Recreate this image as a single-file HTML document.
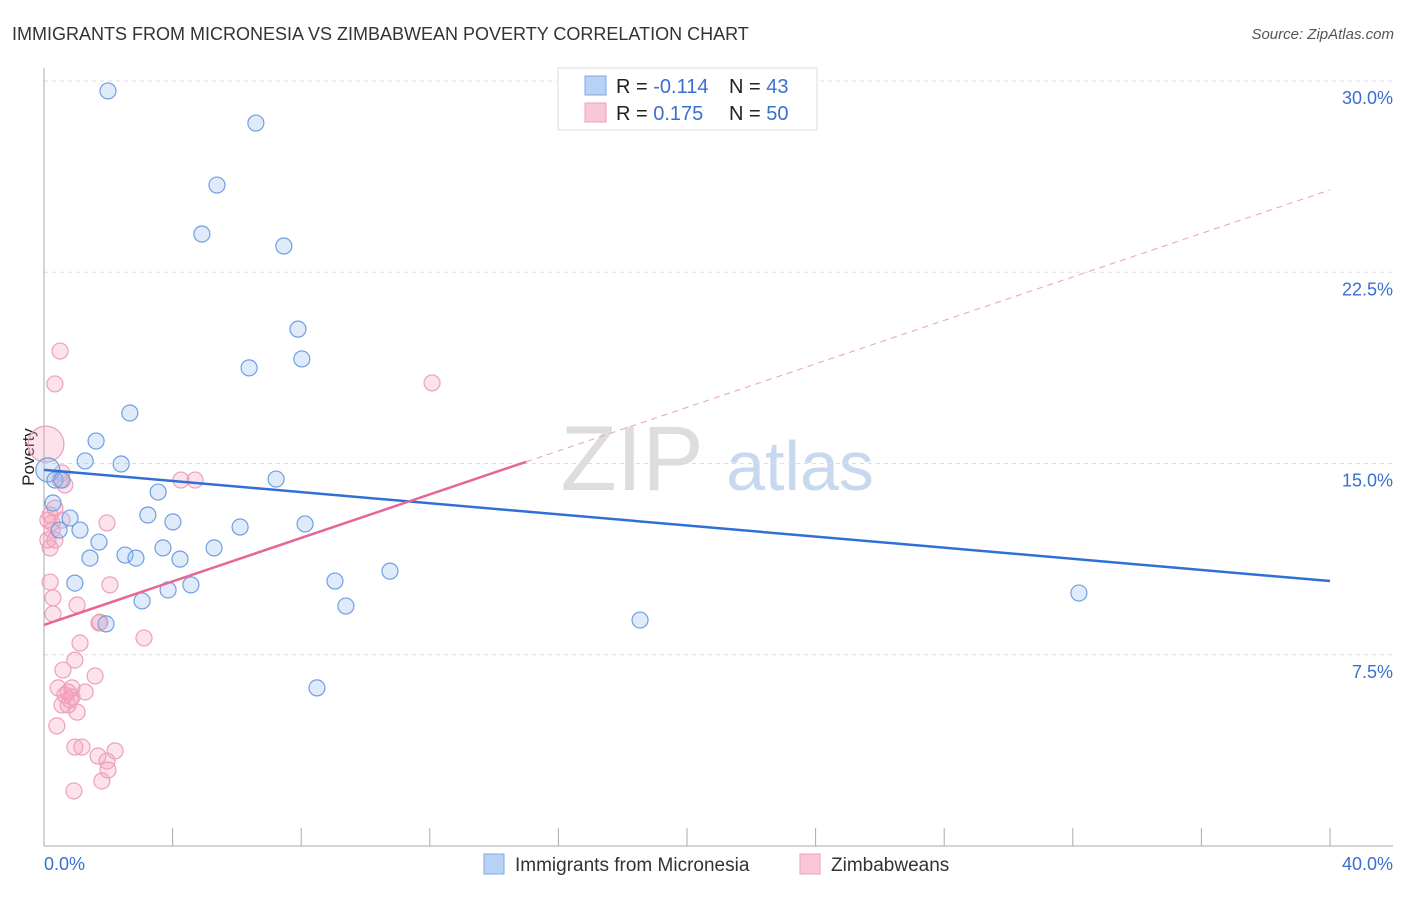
<!DOCTYPE html>
<html><head><meta charset="utf-8"><style>
body{margin:0;background:#fff;font-family:"Liberation Sans",sans-serif}
svg text{font-family:"Liberation Sans",sans-serif}
</style></head><body>
<svg id="c" width="1406" height="892">
<text x="12" y="40" font-size="18" fill="#333">IMMIGRANTS FROM MICRONESIA VS ZIMBABWEAN POVERTY CORRELATION CHART</text>
<text x="1394" y="39" font-size="15" fill="#555" font-style="italic" text-anchor="end">Source: ZipAtlas.com</text>
<text x="34" y="457" font-size="17" fill="#222" transform="rotate(-90 34 457)" text-anchor="middle">Poverty</text>
<g><text x="632" y="490" font-size="92" fill="#ddd" text-anchor="middle" font-family="Liberation Serif">ZIP</text><text x="800" y="490" font-size="70" fill="#c8d8ee" text-anchor="middle">atlas</text></g>
<g id="grid"></g><g id="pts"></g><g id="lines"></g>
<g>
<rect x="558" y="68" width="259" height="62" fill="#fff" stroke="#ddd"/>
<rect x="585" y="76" width="21" height="19" fill="#b8d2f5" stroke="#7fa8e0"/>
<rect x="585" y="103" width="21" height="19" fill="#f9c7d6" stroke="#eba0b8"/>
<text x="616" y="93" font-size="20" fill="#222">R = <tspan fill="#3a6fd0">-0.114</tspan></text>
<text x="729" y="93" font-size="20" fill="#222">N = <tspan fill="#3a6fd0"> 43</tspan></text>
<text x="616" y="120" font-size="20" fill="#222">R = <tspan fill="#3a6fd0"> 0.175</tspan></text>
<text x="729" y="120" font-size="20" fill="#222">N = <tspan fill="#3a6fd0">50</tspan></text>
</g>
<g>
<rect x="484" y="854" width="20" height="20" fill="#b8d2f5" stroke="#7fa8e0"/>
<text x="515" y="871" font-size="19" fill="#333">Immigrants from Micronesia</text>
<rect x="800" y="854" width="20" height="20" fill="#f9c7d6" stroke="#eba0b8"/>
<text x="831" y="871" font-size="19" fill="#333">Zimbabweans</text>
</g>
</svg>
<script>
const yTicks=[7.5,15,22.5,30];
const xTickLabels=["0.0%","40.0%"];
const blueX=[1.99,6.59,5.38,4.91,7.46,7.90,8.02,6.38,2.67,1.62,1.28,2.40,7.22,3.55,3.23,4.01,6.10,8.12,0.81,1.12,0.47,1.71,1.43,2.52,2.86,3.70,4.23,5.29,3.05,3.86,4.57,0.96,1.93,9.05,9.39,10.76,8.49,18.54,32.19,0.28,0.12,0.34,0.56];
const blueY=[29.61,28.35,25.92,24.0,23.53,20.27,19.1,18.75,16.98,15.88,15.1,14.98,14.39,13.88,12.98,12.71,12.51,12.63,12.86,12.39,12.39,11.92,11.29,11.41,11.29,11.69,11.25,11.69,9.61,10.04,10.24,10.31,8.71,10.39,9.41,10.78,6.2,8.86,9.92,13.45,14.75,14.35,14.35];
const pinkX=[0.50,0.34,0.06,0.56,0.65,0.50,0.34,0.19,0.25,0.12,0.19,1.96,2.05,1.03,0.19,0.28,0.28,1.71,3.11,1.12,0.96,1.59,0.59,0.44,0.87,1.28,0.81,0.75,0.56,1.03,0.40,0.96,1.18,1.68,1.96,2.21,1.99,1.80,0.93,4.26,4.70,12.07,0.65,0.87,0.34,0.12,0.25,1.74,0.75,0.56];
const pinkY=[19.41,18.12,15.76,14.63,14.16,14.35,13.25,12.98,12.39,12.0,11.69,12.67,10.24,9.45,10.35,9.73,9.10,8.75,8.16,7.96,7.29,6.67,6.90,6.20,6.20,6.04,5.73,5.53,5.53,5.25,4.71,3.88,3.88,3.53,3.33,3.73,2.98,2.55,2.16,14.35,14.35,18.16,5.92,5.84,12.0,12.78,12.67,8.78,6.04,12.78];
const blueTrend=[14.75,-0.109];
const pinkTrend=[8.67,0.4265];
const X=v=>44+v/40*1286, Y=v=>846-v*25.5;
const NS="http://www.w3.org/2000/svg";
function mk(t,a,p){const e=document.createElementNS(NS,t);for(const k in a)e.setAttribute(k,a[k]);p.appendChild(e);return e;}
const g=document.getElementById('grid');
yTicks.forEach(t=>{
 const l=mk('line',{x1:44,x2:1393,y1:Y(t),y2:Y(t),stroke:'#ddd','stroke-dasharray':'4 4'},g);
 
 
 const tx=mk('text',{x:1393,y:Y(t)+23,'font-size':18,fill:'#3a6fd0','text-anchor':'end'},g);
 tx.textContent=t.toFixed(1)+'%';
 
 
});
const ax=mk('line',{x1:44,x2:44,y1:68,y2:846,stroke:'#aaa'},g);


const bx=mk('line',{x1:44,x2:1393,y1:846,y2:846,stroke:'#aaa'},g);


for(let i=1;i<=10;i++){const t=mk('line',{x1:X(i*4),x2:X(i*4),y1:828,y2:846,stroke:'#aaa'},g);
 
 }
[[0,'start',44],[40,'end',1393]].forEach((d,i)=>{const t=mk('text',{x:d[2],y:870,'font-size':18,fill:'#3a6fd0','text-anchor':d[1]},g);t.textContent=xTickLabels[i];
 
 });
const p=document.getElementById('pts');
pinkX.forEach((x,i)=>{const c=mk('circle',{cx:X(x),cy:Y(pinkY[i]),r:i==2?18:8,fill:'rgba(245,160,190,0.3)',stroke:'#eea0b8','stroke-width':1.2},p);
 
 });
blueX.forEach((x,i)=>{const c=mk('circle',{cx:X(x),cy:Y(blueY[i]),r:i==40?12:8,fill:'rgba(150,190,240,0.3)',stroke:'#6f9fe0','stroke-width':1.2},p);
 
 });
const L=document.getElementById('lines');
const b=mk('line',{x1:X(0),y1:Y(blueTrend[0]),x2:X(40),y2:Y(blueTrend[0]+40*blueTrend[1]),stroke:'#2f6fd6','stroke-width':2.5},L);


const pe=15;
const ps=mk('line',{x1:X(0),y1:Y(pinkTrend[0]),x2:X(pe),y2:Y(pinkTrend[0]+pe*pinkTrend[1]),stroke:'#e8659a','stroke-width':2.5},L);


const pd=mk('line',{x1:X(pe),y1:Y(pinkTrend[0]+pe*pinkTrend[1]),x2:X(40),y2:Y(pinkTrend[0]+40*pinkTrend[1]),stroke:'#e8a0b8','stroke-width':1,'stroke-dasharray':'6 5'},L);


</script>
</body></html>
